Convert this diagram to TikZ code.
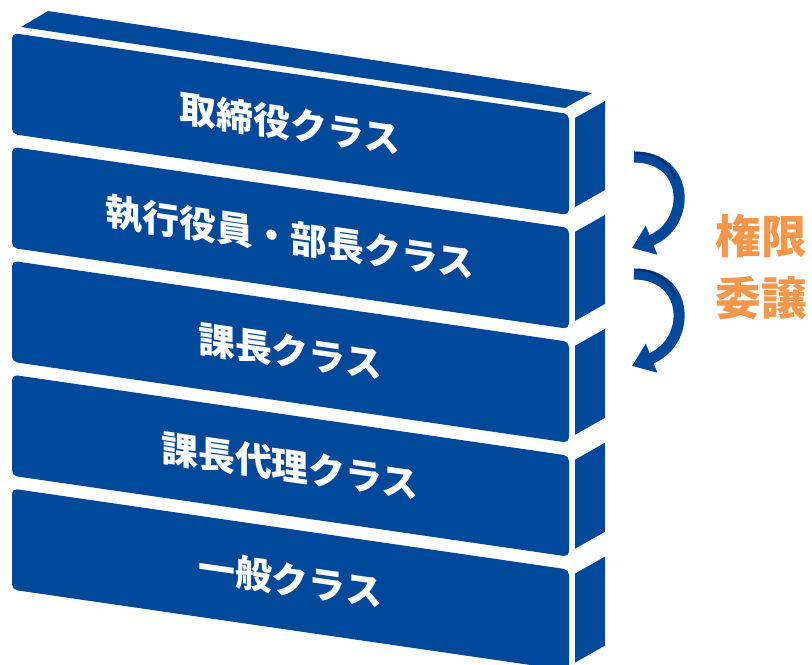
\documentclass[tikz,border=0pt]{standalone}
\usepackage{fontspec}
\usepackage{tikz}
\usetikzlibrary{arrows.meta}
\newfontfamily\jpfont{Noto Sans CJK JP}
\definecolor{kaisoAo}{HTML}{00489A}
\definecolor{koiAo}{HTML}{00326E}
\definecolor{daidai}{HTML}{F5974A}

\begin{document}
\begin{tikzpicture}[x=0.02cm,y=-0.02cm,
  sinifyazi/.style={text=white,font=\jpfont\bfseries\fontsize{21}{21}\selectfont,yslant=-0.145,transform shape},
  devok/.style={kaisoAo,line width=6.3pt,-{Triangle[length=12pt,width=17pt]}}]
\useasboundingbox (0,0) rectangle (812,665);
% ust yuz
\fill[kaisoAo] (21,27)--(48,11)--(592,93)--(565,108)--cycle;
\foreach \i/\txt in {0/取締役クラス,1/執行役員・部長クラス,2/課長クラス,3/課長代理クラス,4/一般クラス} {
  \pgfmathsetmacro{\d}{113.9*\i}
  \fill[kaisoAo,rounded corners=3pt] (12,{33+\d})--(569,{114+\d})--(569,{215+\d})--(12,{134+\d})--cycle;
  \fill[kaisoAo] (575,{118+\d})--(605,{101+\d})--(605,{190+\d})--(575,{207+\d})--cycle;
  \node[sinifyazi] (sinif\i) at (290,{124+\d}) {\txt};
}
% oklar
\coordinate (ok1bas) at (634,157);
\coordinate (ok1uc) at (632,248);
\coordinate (ok2bas) at (634,274);
\coordinate (ok2uc) at (632,366);
\draw[devok] (ok1bas) .. controls +(56,0) and +(60,-24) .. (ok1uc);
\draw[devok] (ok2bas) .. controls +(56,0) and +(60,-24) .. (ok2uc);
\draw[koiAo,line width=1.3pt] (636,153) .. controls (658,153) and (670,164) .. (675,179);
\draw[koiAo,line width=1.3pt] (636,270) .. controls (658,270) and (670,281) .. (675,296);
\node[text=daidai,font=\jpfont\bfseries\fontsize{26}{35}\selectfont,align=center] (kengen) at (761,267) {権限\\委譲};
\end{tikzpicture}
\end{document}
